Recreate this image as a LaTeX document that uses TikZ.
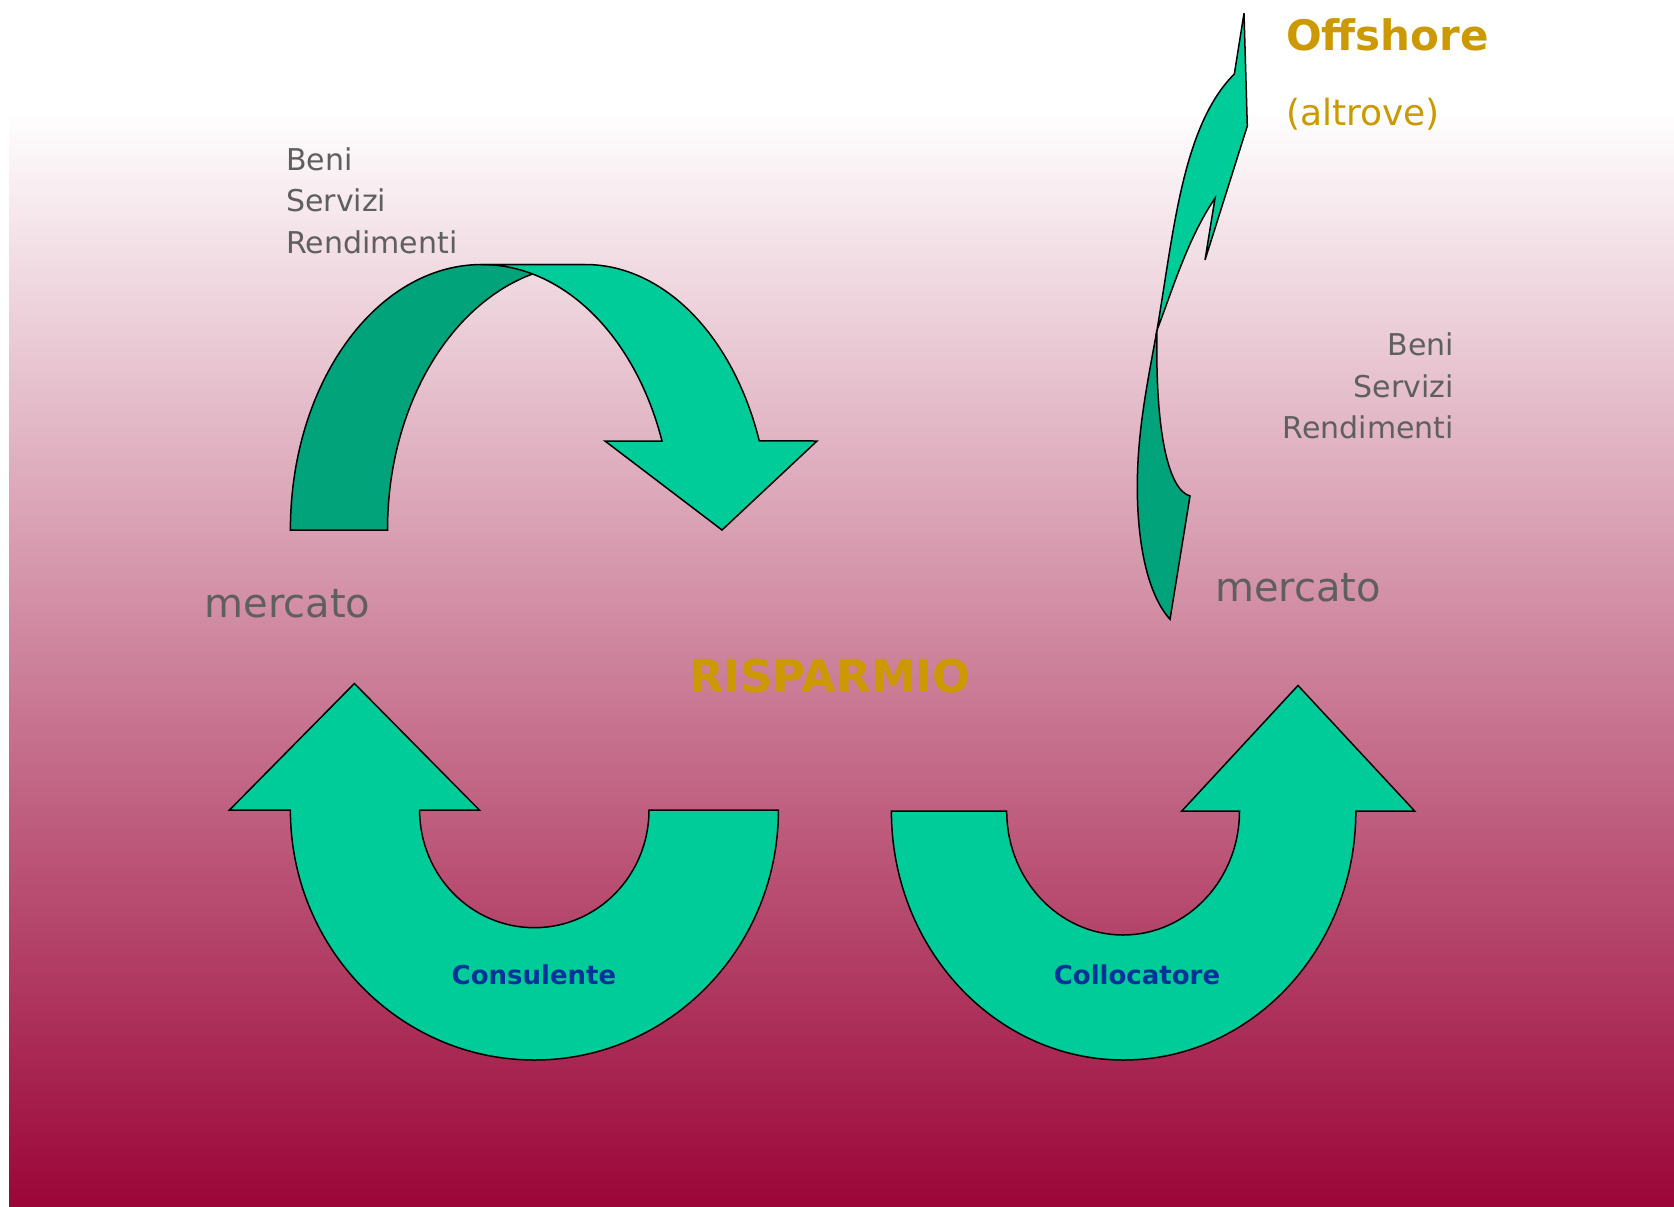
\documentclass[tikz,border=0pt]{standalone}
\usepackage{fontspec}
\setmainfont{DejaVu Sans}
\usepackage{tikz}

\definecolor{bgred}{RGB}{155,5,56}
\definecolor{frontgreen}{RGB}{0,204,153}
\definecolor{backgreen}{RGB}{0,163,122}
\definecolor{txtgray}{RGB}{95,95,95}
\definecolor{txtgold}{RGB}{204,153,0}
\definecolor{txtblue}{RGB}{0,51,153}

\begin{document}
\begin{tikzpicture}[x=1pt,y=-1pt,
    frontband/.style={draw=black, line width=1.5pt, fill=frontgreen},
    backband/.style={frontband, fill=backgreen},
    grayword/.style={inner sep=0pt, text=txtgray, font=\fontsize{30}{30}\selectfont},
    bigword/.style={inner sep=0pt, text=txtgray, font=\fontsize{40}{40}\selectfont},
    bandword/.style={inner sep=0pt, text=txtblue, font=\bfseries\fontsize{26}{26}\selectfont}]

    % page and background
    \fill[white] (0,0) rectangle (1674,1207);
    \shade[top color=white, bottom color=bgred] (9,110) rectangle (1674,1207);
    \useasboundingbox (0,0) rectangle (1674,1207);

    % top left arrow (back, then front)
    \draw[backband] (290.4,530) arc[start angle=180, end angle=90, x radius=191.6pt, y radius=265.5pt]
        -- (585,264.5) arc[start angle=90, end angle=180, x radius=197.5pt, y radius=265.5pt] -- cycle;
    \draw[frontband] (482,264.5) -- (585,264.5)
        arc[start angle=90, end angle=19.6, x radius=185pt, y radius=265.5pt]
        -- (817,441) -- (722,530) -- (605,441) -- (662,441)
        arc[start angle=19.6, end angle=90, x radius=191pt, y radius=265.5pt] -- cycle;

    % bottom left arrow
    \draw[frontband] (229.5,810) -- (290.4,810)
        arc[start angle=180, end angle=360, x radius=244pt, y radius=250pt]
        -- (649,810)
        arc[start angle=0, end angle=-180, x radius=114.7pt, y radius=117.7pt]
        -- (479.3,810) -- (354.4,683.5) -- cycle;

    % bottom right arrow
    \draw[frontband] (891.4,811)
        arc[start angle=180, end angle=360, x radius=232.2pt, y radius=249pt]
        -- (1414.6,811) -- (1298,685.5) -- (1181.8,811) -- (1239.5,811)
        arc[start angle=0, end angle=-180, x radius=116.4pt, y radius=124pt] -- cycle;

    % offshore arrow (back, then front)
    \coordinate (X) at (1157,330);
    \draw[backband] (X) .. controls (1148,380) and (1137.3,430) .. (1137.3,486.7)
        .. controls (1137.3,545) and (1148,595) .. (1170,619.3)
        -- (1190,496) .. controls (1168,490) and (1155,430) .. (X) -- cycle;
    \draw[frontband] (X) .. controls (1174,230) and (1182.5,126) .. (1234.3,74)
        -- (1244,13.3) -- (1247.3,126) -- (1205,260) -- (1215,198.3)
        .. controls (1187.4,238.3) and (1170.7,295) .. (X) -- cycle;

    % texts
    \node[grayword, anchor=base west] (beniL) at (286,170) {Beni};
    \node[grayword, anchor=base west] (serviziL) at (286,211.5) {Servizi};
    \node[grayword, anchor=base west] (rendL) at (286,253) {Rendimenti};
    \node[grayword, anchor=base east] (beniR) at (1454,355.5) {Beni};
    \node[grayword, anchor=base east] (serviziR) at (1454,397) {Servizi};
    \node[grayword, anchor=base east] (rendR) at (1454,438) {Rendimenti};

    \node[bigword, anchor=base] (mercatoL) at (287.5,617) {mercato};
    \node[bigword, anchor=base] (mercatoR) at (1298,601) {mercato};

    \node[inner sep=0pt, anchor=base, text=txtgold, font=\bfseries\fontsize{45}{45}\selectfont] (risparmio) at (830,692) {RISPARMIO};
    \node[inner sep=0pt, anchor=base west, text=txtgold, font=\bfseries\fontsize{42}{42}\selectfont] (offshore) at (1286,51) {Offshore};
    \node[inner sep=0pt, anchor=base west, text=txtgold, font=\fontsize{36}{36}\selectfont] (altrove) at (1286,125) {(altrove)};

    \node[bandword, anchor=base] (consulente) at (534,984) {Consulente};
    \node[bandword, anchor=base] (collocatore) at (1137,984) {Collocatore};

\end{tikzpicture}
\end{document}
